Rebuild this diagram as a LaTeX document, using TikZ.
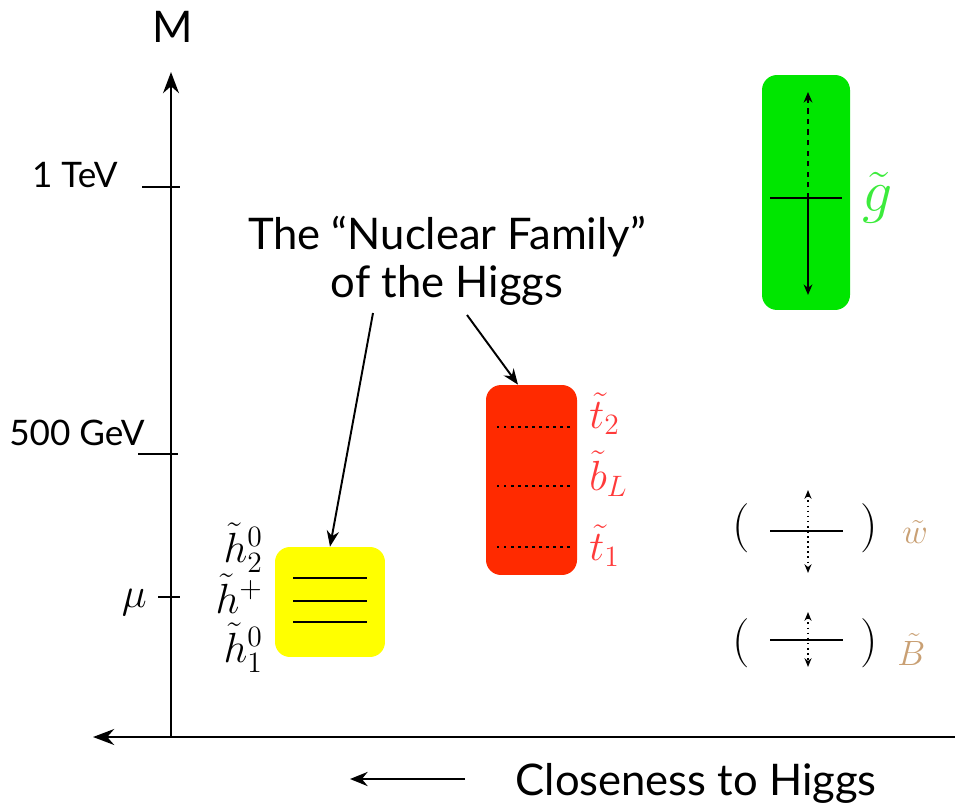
\RequirePackage{fix-cm}
\documentclass[tikz,border=0pt]{standalone}
\usepackage[no-math]{fontspec}
\setmainfont{Lato}
\usepackage{amsmath}
\usetikzlibrary{arrows.meta,positioning}
\definecolor{ink}{HTML}{000000}
\definecolor{gluino}{HTML}{00E600}
\definecolor{gluinotxt}{HTML}{3CEB3C}
\definecolor{stopbox}{HTML}{FF2A00}
\definecolor{stoptxt}{HTML}{FF3A3A}
\definecolor{higgsino}{HTML}{FFFF00}
\definecolor{gaugino}{HTML}{C9A074}

\begin{document}
\begin{tikzpicture}[x=0.02cm,y=-0.02cm,
  lab/.style={font=\fontsize{24.8}{29}\selectfont,text=ink,inner sep=0pt},
  tick/.style={font=\fontsize{20}{24}\selectfont,text=ink,inner sep=0pt},
  sym/.style={font=\fontsize{24}{28}\selectfont,inner sep=0pt},
  small/.style={font=\fontsize{20}{24}\selectfont,text=gaugino,inner sep=0pt},
  paren/.style={font=\fontsize{28}{32}\selectfont,inner sep=0pt,anchor=base},
  box/.style={rounded corners=0.3cm,inner sep=0pt},
  axis/.style={line width=1.6pt,-{Stealth[length=12pt,width=9pt]}},
  ptr/.style={line width=1.1pt,-{Stealth[length=9pt,width=7pt]}},
  level/.style={line width=1.3pt},
  split/.style={line width=0.9pt,{Stealth[length=5pt,width=4pt]}-{Stealth[length=5pt,width=4pt]}}]
\useasboundingbox (0,0) rectangle (955,807);
\coordinate (origin) at (171,737);
\coordinate (ytip) at (171,72);
\coordinate (xstart) at (955,737);
\coordinate (xtip) at (93,737);
\draw[axis] (origin) -- (ytip);
\draw[axis] (xstart) -- (xtip);
\node[lab,anchor=base] (mass) at (173,43) {M};
\draw[level] (142,187) -- (180,187);
\node[tick,anchor=base east] (tev) at (118,188) {1 TeV};
\draw[level] (138,454) -- (178,454);
\node[tick,anchor=base east] (gev) at (145,445) {500 GeV};
\draw[level] (158,597) -- (180,597);
\node[sym,anchor=base east] (mu) at (147,607) {$\mu$};
\node[box,fill=gluino,minimum width=1.76cm,minimum height=4.7cm] (glu) at (806,192.5) {};
\coordinate (gc) at (808,198);
\coordinate (gtop) at (808,92);
\coordinate (gbot) at (808,295);
\draw[line width=1pt,dashed,-{Stealth[length=6pt,width=5pt]}] (gc) -- (gtop);
\draw[line width=1pt,-{Stealth[length=6pt,width=5pt]}] (gc) -- (gbot);
\draw[level] (770,198) -- (842,198);
\node[font=\fontsize{34}{40}\selectfont,text=gluinotxt,inner sep=0pt,anchor=base west] (gt) at (862,212) {$\tilde g$};
\node[box,fill=stopbox,minimum width=1.82cm,minimum height=3.8cm] (stop) at (531.5,480) {};
\foreach \yy in {427,486,547}
  \draw[line width=1.3pt,dash pattern=on 1.4pt off 2.6pt] (497,\yy) -- (570,\yy);
\node[sym,text=stoptxt,anchor=base west] (t2) at (589,428) {$\tilde t_2$};
\node[sym,text=stoptxt,anchor=base west] (bl) at (589,490) {$\tilde b_L$};
\node[sym,text=stoptxt,anchor=base west] (t1) at (589,560) {$\tilde t_1$};
\node[box,fill=higgsino,minimum width=2.2cm,minimum height=2.2cm] (hig) at (330,602) {};
\foreach \yy in {578,601,622}
  \draw[level] (293,\yy) -- (367,\yy);
\node[sym,anchor=base east] (h2) at (263,562) {$\tilde h^0_2$};
\node[sym,anchor=base east] (hp) at (263,613) {$\tilde h^+$};
\node[sym,anchor=base east] (h1) at (263,662) {$\tilde h^0_1$};
\node[lab,anchor=base] (famA) at (447,250) {The ``Nuclear Family''};
\node[lab,anchor=base] (famB) at (447,297) {of the Higgs};
\coordinate (pA) at (373,313);
\coordinate (pB) at (467,315);
\draw[ptr] (pA) -- (hig.north);
\draw[ptr] (pB) -- ([xshift=-0.27cm]stop.north);
\node[paren] (wl) at (741,540) {$\mathbf{(}$};
\node[paren] (wr) at (869,540) {$\mathbf{)}$};
\draw[level] (770,531) -- (843,531);
\draw[split,dotted] (808,490) -- (808,573);
\node[small,anchor=base west] (wino) at (902,543) {$\tilde w$};
\node[paren] (bl2) at (741,655) {$\mathbf{(}$};
\node[paren] (br2) at (869,655) {$\mathbf{)}$};
\draw[level] (770,640) -- (843,640);
\draw[split,dotted] (808,612) -- (808,667);
\node[small,anchor=base west] (bino) at (897,665) {$\tilde B$};
\coordinate (cfrom) at (465,779);
\coordinate (cto) at (350,779);
\draw[line width=1.6pt,-{Stealth[length=10pt,width=8pt]}] (cfrom) -- (cto);
\node[lab,anchor=base east] (close) at (877,795) {Closeness to Higgs};
\end{tikzpicture}
\end{document}
